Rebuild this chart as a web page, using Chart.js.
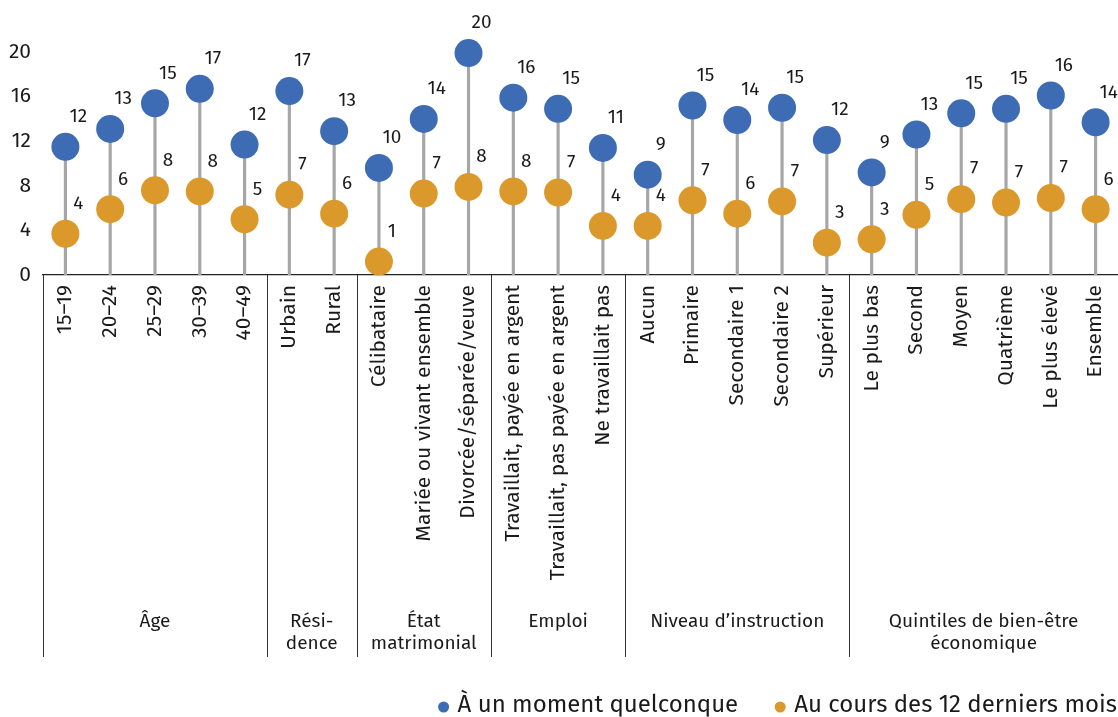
<!DOCTYPE html>
<html>
<head>
<meta charset="utf-8">
<script src="https://cdn.jsdelivr.net/npm/chart.js@4/dist/chart.umd.min.js"></script>
<style>
  html, body { margin: 0; padding: 0; background: #fff; }
  #wrap { width: 1118px; height: 717px; }
</style>
</head>
<body>
<div id="wrap"><canvas id="chart"></canvas></div>
<script>
const categories = [
  '15–19', '20–24', '25–29', '30–39', '40–49',
  'Urbain', 'Rural',
  'Célibataire', 'Mariée ou vivant ensemble', 'Divorcée/séparée/veuve',
  'Travaillait, payée en argent', 'Travaillait, pas payée en argent', 'Ne travaillait pas',
  'Aucun', 'Primaire', 'Secondaire 1', 'Secondaire 2', 'Supérieur',
  'Le plus bas', 'Second', 'Moyen', 'Quatrième', 'Le plus élevé', 'Ensemble'
];
const groupNames = [['Âge'], ['Rési-', 'dence'], ['État', 'matrimonial'], ['Emploi'], ['Niveau d’instruction'], ['Quintiles de bien-être', 'économique']];
const groupSizes = [5, 2, 3, 3, 5, 6];

const everValues = [11.5, 13.1, 15.4, 16.7, 11.7, 16.5, 12.9, 9.6, 14.0, 19.9, 15.9, 14.9, 11.4,
  9.0, 15.2, 13.9, 15.0, 12.1, 9.2, 12.6, 14.5, 14.9, 16.1, 13.7];
const last12Values = [3.7, 5.9, 7.6, 7.5, 5.0, 7.2, 5.5, 1.2, 7.3, 7.9, 7.5, 7.4, 4.4,
  4.4, 6.7, 5.5, 6.6, 2.9, 3.2, 5.4, 6.8, 6.5, 6.9, 5.9];
const everLabels = [12, 13, 15, 17, 12, 17, 13, 10, 14, 20, 16, 15, 11, 9, 15, 14, 15, 12, 9, 13, 15, 15, 16, 14];
const last12Labels = [4, 6, 8, 8, 5, 7, 6, 1, 7, 8, 8, 7, 4, 4, 7, 6, 7, 3, 3, 5, 7, 7, 7, 6];
const yTicks = [0, 4, 8, 12, 16, 20];

const BLUE = '#3d6cb4';
const ORANGE = '#db992c';
const FONT = "'Fira Sans', 'Noto Sans', sans-serif";
const TEXT = '#1a1a1a';

const extras = {
  id: 'extras',
  afterDatasetsDraw(chart) {
    const ctx = chart.ctx;
    ctx.save();
    ctx.font = '19px ' + FONT;
    ctx.fillStyle = TEXT;
    ctx.textAlign = 'center';
    ctx.textBaseline = 'middle';
    [[1, everLabels], [2, last12Labels]].forEach(([idx, labels]) => {
      chart.getDatasetMeta(idx).data.forEach((pt, i) => {
        ctx.fillText(String(labels[i]), pt.x + 13, pt.y - 30);
      });
    });
    ctx.restore();
  },
  afterDraw(chart) {
    const ctx = chart.ctx;
    const x = chart.scales.x;
    const step = (x.getPixelForValue(1) - x.getPixelForValue(0));
    ctx.save();
    // group separators and names
    ctx.strokeStyle = '#333';
    ctx.lineWidth = 1;
    let start = 0;
    ctx.font = '19px ' + FONT;
    ctx.fillStyle = TEXT;
    ctx.textAlign = 'center';
    ctx.textBaseline = 'middle';
    groupSizes.forEach((n, g) => {
      const left = x.getPixelForValue(start) - step / 2;
      const right = x.getPixelForValue(start + n - 1) + step / 2;
      const lx = Math.round(left) + 0.5;
      ctx.beginPath();
      ctx.moveTo(lx, x.top);
      ctx.lineTo(lx, x.bottom);
      ctx.stroke();
      const cx = (left + right) / 2;
      groupNames[g].forEach((line, k) => {
        ctx.fillText(line, cx, 622 + k * 22);
      });
      start += n;
    });
    // legend
    ctx.font = '24px ' + FONT;
    ctx.textAlign = 'left';
    let lx = chart.width - 1;
    const items = [chart.data.datasets[2], chart.data.datasets[1]];
    items.forEach(ds => {
      const w = ctx.measureText(ds.label).width;
      const tx = lx - w;
      ctx.fillStyle = TEXT;
      ctx.fillText(ds.label, tx, 705);
      ctx.fillStyle = ds.backgroundColor;
      ctx.beginPath();
      ctx.arc(tx - 14, 707, 5.5, 0, Math.PI * 2);
      ctx.fill();
      lx = tx - 14 - 42;
    });
    ctx.restore();
  }
};

new Chart(document.getElementById('chart'), {
  type: 'line',
  data: {
    labels: categories,
    datasets: [
      {
        type: 'bar',
        label: 'stems',
        data: everValues,
        backgroundColor: '#a6a6a6',
        barThickness: 2.5,
        order: 3
      },
      {
        label: 'À un moment quelconque',
        data: everValues,
        showLine: false,
        backgroundColor: BLUE,
        borderColor: BLUE,
        pointRadius: 14,
        pointHoverRadius: 14,
        pointBorderWidth: 0,
        clip: false,
        order: 1
      },
      {
        label: 'Au cours des 12 derniers mois',
        data: last12Values,
        showLine: false,
        backgroundColor: ORANGE,
        borderColor: ORANGE,
        pointRadius: 14,
        pointHoverRadius: 14,
        pointBorderWidth: 0,
        clip: false,
        order: 2
      }
    ]
  },
  options: {
    responsive: true,
    maintainAspectRatio: false,
    animation: false,
    layout: { autoPadding: false, padding: { top: 52, bottom: 60, left: 0, right: 0 } },
    plugins: { legend: { display: false }, tooltip: { enabled: false } },
    scales: {
      x: {
        offset: true,
        grid: { display: false, drawTicks: false },
        border: { display: true, color: '#222', width: 1.3 },
        ticks: {
          autoSkip: false, maxRotation: 90, minRotation: 90, padding: 10,
          color: TEXT, font: { family: FONT, size: 21 }
        },
        afterFit(scale) {
          scale.height = 382;
          scale.paddingLeft = 0;
          scale.paddingRight = 0;
        }
      },
      y: {
        min: 0, max: 20,
        grid: { display: false, drawTicks: false },
        border: { display: false },
        afterBuildTicks(scale) { scale.ticks = yTicks.map(v => ({ value: v })); },
        ticks: { padding: 12, color: TEXT, font: { family: FONT, size: 21 } },
        afterFit(scale) { scale.width = 43; }
      }
    }
  },
  plugins: [extras]
});
</script>
</body>
</html>
